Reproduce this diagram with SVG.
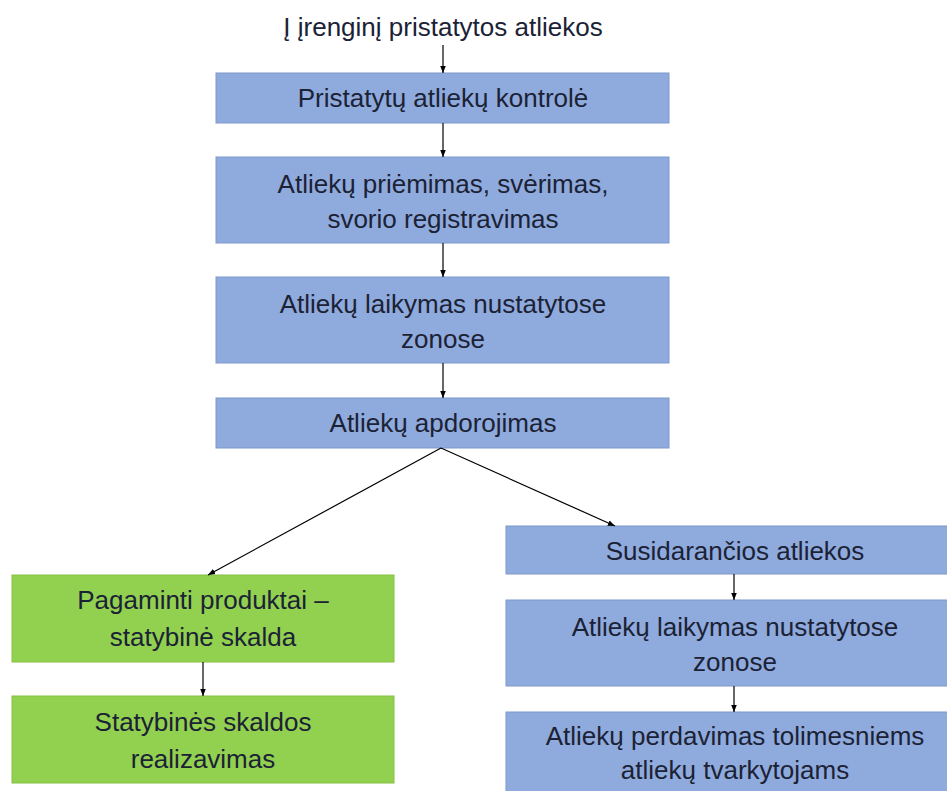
<svg xmlns="http://www.w3.org/2000/svg" width="947" height="791" viewBox="0 0 947 791">
<defs>
<style>
.blue{fill:#8faadc;stroke:#7f98c9;stroke-width:1}
.green{fill:#92d050;stroke:#86c044;stroke-width:1}
text{font-family:"Liberation Sans",Arial,sans-serif;font-size:26px;fill:#1c2235;text-anchor:middle}
.c{stroke:#000;stroke-width:1.2;fill:none;marker-end:url(#ah)}
</style>
<marker id="ah" viewBox="0 0 10 10" refX="10" refY="5" markerWidth="6" markerHeight="6" markerUnits="strokeWidth" orient="auto">
<path d="M0,1 L10,5 L0,9 z" fill="#000"/>
</marker>
</defs>
<rect width="947" height="791" fill="#fff"/>
<g id="start"><text x="443" y="36">Į įrenginį pristatytos atliekos</text></g>
<g id="n1"><rect class="blue" x="216" y="73" width="453" height="50"/><text x="443" y="107">Pristatytų atliekų kontrolė</text></g>
<g id="n2"><rect class="blue" x="216" y="157" width="453" height="86"/><text x="443" y="193">Atliekų priėmimas, svėrimas,</text><text x="443" y="228">svorio registravimas</text></g>
<g id="n3"><rect class="blue" x="216" y="277" width="453" height="86"/><text x="443" y="313">Atliekų laikymas nustatytose</text><text x="443" y="348">zonose</text></g>
<g id="n4"><rect class="blue" x="216" y="398" width="453" height="50"/><text x="443" y="432">Atliekų apdorojimas</text></g>
<g id="g1"><rect class="green" x="12" y="575" width="382" height="87"/><text x="203" y="609">Pagaminti produktai –</text><text x="203" y="646">statybinė skalda</text></g>
<g id="g2"><rect class="green" x="12" y="696" width="382" height="87"/><text x="203" y="731">Statybinės skaldos</text><text x="203" y="768">realizavimas</text></g>
<g id="r1"><rect class="blue" x="506" y="526" width="460" height="48"/><text x="735" y="560">Susidarančios atliekos</text></g>
<g id="r2"><rect class="blue" x="506" y="600" width="460" height="86"/><text x="735" y="636">Atliekų laikymas nustatytose</text><text x="735" y="671">zonose</text></g>
<g id="r3"><rect class="blue" x="506" y="712" width="460" height="95"/><text x="735" y="745">Atliekų perdavimas tolimesniems</text><text x="735" y="779">atliekų tvarkytojams</text></g>
<g id="connectors">
<line class="c" x1="443" y1="45" x2="443" y2="73"/>
<line class="c" x1="443" y1="123" x2="443" y2="157"/>
<line class="c" x1="443" y1="243" x2="443" y2="277"/>
<line class="c" x1="443" y1="363" x2="443" y2="398"/>
<line class="c" x1="441" y1="448" x2="208" y2="575"/>
<line class="c" x1="441" y1="448" x2="615" y2="526"/>
<line class="c" x1="203" y1="662" x2="203" y2="696"/>
<line class="c" x1="734" y1="574" x2="734" y2="600"/>
<line class="c" x1="734" y1="686" x2="734" y2="712"/>
</g>
</svg>
